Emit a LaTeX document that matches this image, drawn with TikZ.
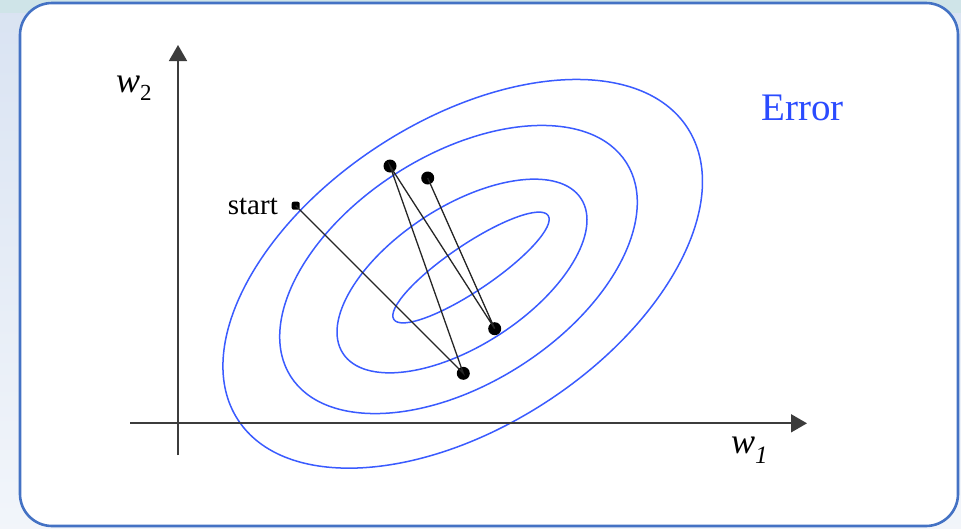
\documentclass[tikz,border=0pt]{standalone}
\usepackage{fontspec}
\setmainfont{Liberation Serif}
\usetikzlibrary{arrows.meta}
\definecolor{frameblue}{HTML}{4472C4}
\definecolor{ellblue}{HTML}{3A5BFF}
\definecolor{errblue}{HTML}{2A4BFF}
\definecolor{axisgray}{HTML}{3C3C3C}
\definecolor{bgtop}{HTML}{CFE4E8}
\definecolor{bgleft}{HTML}{D9E3F2}
\begin{document}
\begin{tikzpicture}[x=1pt,y=-1pt,
  contour/.style={draw=ellblue, line width=1.5pt},
  axisline/.style={draw=axisgray, line width=1.7pt, -{Triangle[length=16pt,width=18pt]}},
  dotnode/.style={circle, fill=black, inner sep=0pt, minimum size=13pt},
  startdot/.style={rectangle, rounded corners=2pt, fill=black, inner sep=0pt, minimum size=8pt},
  stepline/.style={draw=black!85, line width=1.3pt},
  lbl/.style={inner sep=0pt, font=\fontsize{29}{32}\selectfont}]
\useasboundingbox (0,0) rectangle (961,528);
\shade[top color=bgleft, bottom color=bgleft!35!white] (0,0) rectangle (961,528);
\fill[bgtop] (0,0) rectangle (961,13);
\draw[frameblue, line width=2.6pt, fill=white, rounded corners=32pt] (20,3) rectangle (958,526);
% contours
\draw[contour, rotate around={33:(462.7,273.8)}] (462.7,273.8) ellipse [x radius=268, y radius=153];
\draw[contour, rotate around={32.5:(458.5,269.5)}] (458.5,269.5) ellipse [x radius=199, y radius=114.5];
\draw[contour, rotate around={33:(462,276)}] (462,276) ellipse [x radius=142, y radius=69.5];
\draw[contour, rotate around={34:(471,267.5)}] (471,267.5) ellipse [x radius=93, y radius=23];
% axes
\coordinate (yb) at (178,455);
\coordinate (yt) at (178,45);
\coordinate (xl) at (130,423.3);
\coordinate (xr) at (807,423.3);
\draw[axisline] (yb) -- (yt);
\draw[axisline] (xl) -- (xr);
% points
\node[startdot] (s) at (295.7,205.7) {};
\node[dotnode] (p1) at (390,166) {};
\node[dotnode] (p2) at (427.7,178) {};
\node[dotnode] (p3) at (494.7,328.7) {};
\node[dotnode] (p4) at (463.3,373.3) {};
\draw[stepline] (s.center) -- (p4.center) -- (p1.center) -- (p3.center) -- (p2.center);
% labels
\node[lbl, anchor=base east] (st) at (278,214) {start};
\node[lbl, anchor=base west, text=errblue, font=\fontsize{39}{42}\selectfont] (err) at (761,120) {Error};
\node[lbl, anchor=base west, font=\fontsize{36}{40}\selectfont\itshape] (w2) at (116,92) {w\raisebox{-8pt}{\fontsize{23}{24}\selectfont\upshape 2}};
\node[lbl, anchor=base west, font=\fontsize{36}{40}\selectfont\itshape] (w1) at (731,453) {w\raisebox{-10pt}{\fontsize{25}{26}\selectfont 1}};
\end{tikzpicture}
\end{document}
